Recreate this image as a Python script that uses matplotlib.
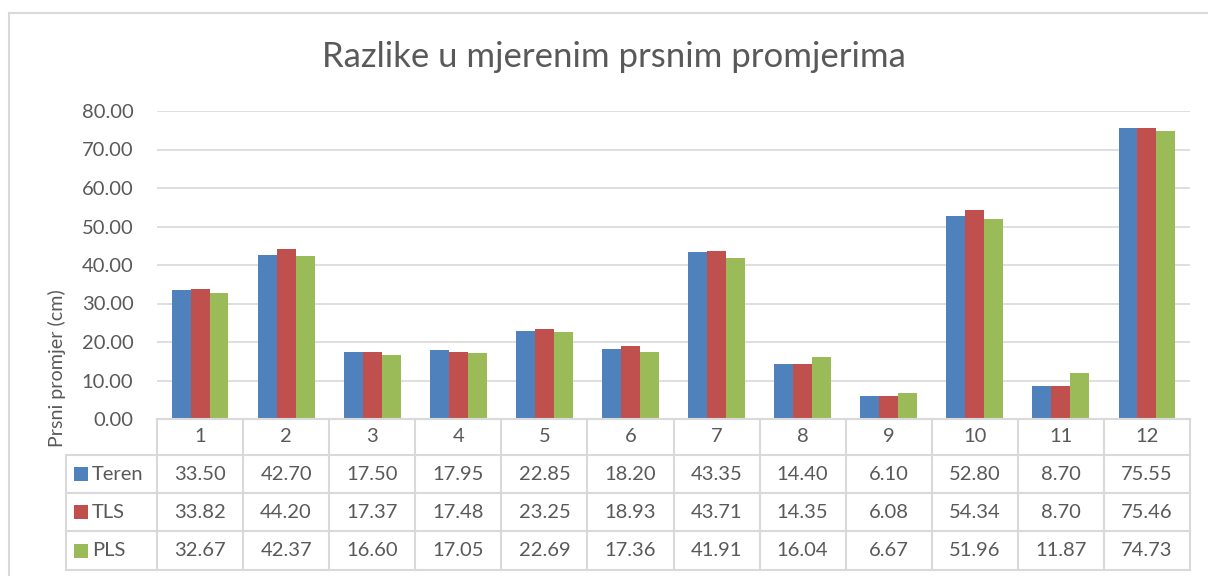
import matplotlib.pyplot as plt
from matplotlib.lines import Line2D
from matplotlib.patches import Rectangle
import numpy as np

# data
kategorije = ['1', '2', '3', '4', '5', '6', '7', '8', '9', '10', '11', '12']
teren = [33.50, 42.70, 17.50, 17.95, 22.85, 18.20, 43.35, 14.40, 6.10, 52.80, 8.70, 75.55]
tls = [33.82, 44.20, 17.37, 17.48, 23.25, 18.93, 43.71, 14.35, 6.08, 54.34, 8.70, 75.46]
pls = [32.67, 42.37, 16.60, 17.05, 22.69, 17.36, 41.91, 16.04, 6.67, 51.96, 11.87, 74.73]
serije = ['Teren', 'TLS', 'PLS']
boje = ['#4F81BD', '#C0504D', '#9BBB59']

W, H = 1208, 576
plt.rcParams['font.family'] = ['Lato', 'DejaVu Sans']
siva = '#D9D9D9'
tekst = '#595959'

fig = plt.figure(figsize=(W / 100, H / 100), dpi=100)

def px(x0, y0, x1, y1):
    # pixel box (top-left origin) -> figure fraction
    return [x0 / W, 1 - y1 / H, (x1 - x0) / W, (y1 - y0) / H]

# okvir grafikona
fig.add_artist(Line2D([8.5 / W, 8.5 / W], [0, 1 - 12.5 / H], color=siva, lw=1.5, transform=fig.transFigure))
fig.add_artist(Line2D([8.5 / W, 1], [1 - 12.5 / H, 1 - 12.5 / H], color=siva, lw=1.5, transform=fig.transFigure))

# glavni graf
x0, x1 = 157, 1190
ax = fig.add_axes(px(x0, 111, x1, 419))
x = np.arange(len(kategorije))
w = 0.22
for i, (vals, c) in enumerate(zip([teren, tls, pls], boje)):
    ax.bar(x + (i - 1) * w, vals, width=w, color=c, linewidth=0, zorder=3)
ax.set_xlim(-0.5, len(kategorije) - 0.5)
ax.set_ylim(0, 80)
ax.set_yticks(np.arange(0, 81, 10))
ax.set_yticklabels(['%.2f' % v for v in np.arange(0, 81, 10)])
ax.yaxis.grid(True, color=siva, lw=1.2)
ax.set_xticks([])
for s in ax.spines.values():
    s.set_visible(False)
ax.tick_params(axis='y', length=0, pad=17, labelsize=14.5, labelcolor=tekst)

fig.text(614 / W, 1 - 57 / H, 'Razlike u mjerenim prsnim promjerima',
         ha='center', va='center', fontsize=25, color=tekst)
fig.text(57 / W, 1 - 368 / H, 'Prsni promjer (cm)', rotation=90, ha='center', va='center',
         fontsize=14.2, color=tekst)

# tablica podataka
tx0 = 66
ty = [419, 455, 493, 531, 570]
at = fig.add_axes(px(tx0, 419, x1, 570))
at.set_xlim(tx0, x1)
at.set_ylim(570, 419)
at.axis('off')
cw = (x1 - x0) / len(kategorije)
for k in range(len(kategorije) + 1):
    at.plot([x0 + k * cw] * 2, [ty[0], ty[-1]], color=siva, lw=1.5, clip_on=False)
at.plot([tx0, tx0], [ty[1], ty[-1]], color=siva, lw=1.5, clip_on=False)
at.plot([x0, x1], [ty[0], ty[0]], color=siva, lw=1.5, clip_on=False)
for yy in ty[1:]:
    at.plot([tx0, x1], [yy, yy], color=siva, lw=1.5, clip_on=False)
for k, kat in enumerate(kategorije):
    at.text(x0 + (k + 0.5) * cw, (ty[0] + ty[1]) / 2, kat, ha='center', va='center',
            fontsize=14.5, color=tekst)
for r, (ime, vals, c) in enumerate(zip(serije, [teren, tls, pls], boje)):
    yc = (ty[r + 1] + ty[r + 2]) / 2
    at.add_patch(Rectangle((74, yc - 7), 14, 14, color=c, lw=0))
    at.text(92, yc, ime, ha='left', va='center', fontsize=14.5, color=tekst)
    for k, v in enumerate(vals):
        at.text(x0 + (k + 0.5) * cw, yc, '%.2f' % v, ha='center', va='center',
                fontsize=14.5, color=tekst)

fig.savefig('out.png', dpi=100)
